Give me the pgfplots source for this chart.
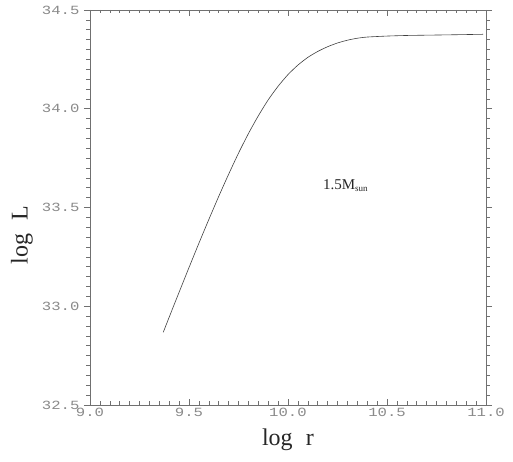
\documentclass[border=0pt]{standalone}
\usepackage{fontspec}
\setmainfont{Liberation Serif}
\newfontfamily\tickfont[FakeStretch=1.25]{Liberation Mono}
\usepackage{pgfplots}
\pgfplotsset{compat=1.18}
\usetikzlibrary{calc}
\definecolor{axgray}{HTML}{707070}
\definecolor{lblgray}{HTML}{8A8A8A}
\begin{document}
\begin{tikzpicture}[x=1pt,y=1pt]
\begin{axis}[
  scale only axis,
  width=396pt, height=395pt,
  xmin=9.0, xmax=11.0, ymin=32.5, ymax=34.5,
  xtick={9.0,9.5,10.0,10.5,11.0},
  ytick={32.5,33.0,33.5,34.0,34.5},
  minor x tick num=9, minor y tick num=9,
  xtick align=inside, ytick align=outside,
  major tick length=6pt, minor tick length=3.5pt,
  axis line style={axgray, line width=0.6pt},
  every tick/.style={axgray, line width=0.5pt},
  /pgf/number format/assume math mode=true,
  xticklabel style={/pgf/number format/.cd,fixed,fixed zerofill,precision=1,/tikz/.cd, font=\tickfont\fontsize{12.5}{12.5}\selectfont, text=lblgray, yshift=0pt},
  yticklabel style={/pgf/number format/.cd,fixed,fixed zerofill,precision=1,/tikz/.cd, font=\tickfont\fontsize{12.5}{12.5}\selectfont, text=lblgray, xshift=-1pt},
  xlabel={log\hspace{0.55em}r},
  ylabel={log\hspace{0.55em}L},
  xlabel style={font=\fontsize{24}{24}\selectfont, text=black!85, at={(axis description cs:0.5,-0.088)}, anchor=center},
  ylabel style={font=\fontsize{24}{24}\selectfont, text=black!85, at={(axis description cs:-0.172,0.43)}, anchor=center},
  clip=false,
]
\addplot[black!75, line width=0.6pt, smooth, tension=0.4] coordinates {
  (9.370,32.868)
  (9.40,32.945)
  (9.45,33.071)
  (9.50,33.196)
  (9.55,33.319)
  (9.60,33.439)
  (9.65,33.556)
  (9.70,33.668)
  (9.75,33.775)
  (9.80,33.874)
  (9.85,33.964)
  (9.90,34.045)
  (9.95,34.114)
  (10.00,34.173)
  (10.05,34.221)
  (10.10,34.260)
  (10.15,34.290)
  (10.20,34.314)
  (10.25,34.333)
  (10.30,34.347)
  (10.35,34.357)
  (10.40,34.363)
  (10.50,34.368)
  (10.60,34.371)
  (10.80,34.374)
  (10.985,34.377)
};
\node[font=\fontsize{15}{15}\selectfont, text=black!85] at (axis cs:10.29,33.61) {1.5M\raisebox{-0.35ex}{\fontsize{9}{9}\selectfont sun}};
\end{axis}
\pgfresetboundingbox
\path[use as bounding box] ($(current axis.south west)+(-90pt,-57pt)$) rectangle ($(current axis.north east)+(27pt,10pt)$);
\end{tikzpicture}
\end{document}
